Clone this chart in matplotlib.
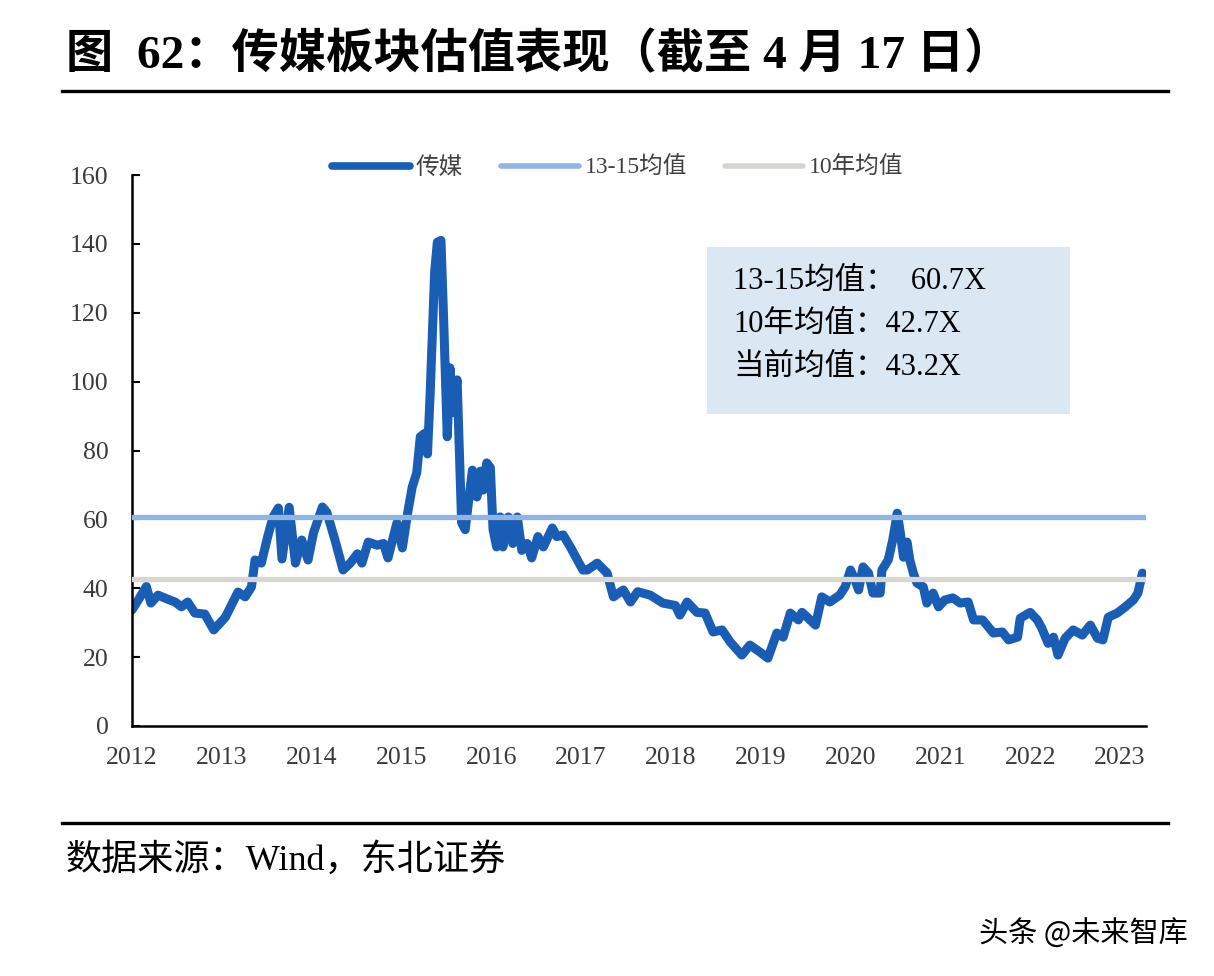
import matplotlib
matplotlib.use("Agg")
import matplotlib.pyplot as plt
from matplotlib.font_manager import FontProperties
from matplotlib.patches import Rectangle
from matplotlib.lines import Line2D

# ---------------- data ----------------
years = [2012.00, 2012.07, 2012.16, 2012.21, 2012.29, 2012.38, 2012.48, 2012.55, 2012.62, 2012.70,
         2012.81, 2012.91, 2013.04, 2013.18, 2013.26, 2013.33, 2013.37, 2013.44, 2013.51, 2013.57,
         2013.63, 2013.67, 2013.75, 2013.82, 2013.89, 2013.96, 2014.02, 2014.12, 2014.17, 2014.26,
         2014.35, 2014.43, 2014.51, 2014.56, 2014.63, 2014.73, 2014.80, 2014.85, 2014.95, 2015.01,
         2015.07, 2015.12, 2015.17, 2015.21, 2015.26, 2015.29, 2015.32, 2015.35, 2015.37, 2015.40,
         2015.44, 2015.47, 2015.51, 2015.54, 2015.57, 2015.62, 2015.65, 2015.67, 2015.71, 2015.74,
         2015.79, 2015.84, 2015.88, 2015.91, 2015.95, 2015.99, 2016.02, 2016.06, 2016.10, 2016.13,
         2016.19, 2016.24, 2016.29, 2016.34, 2016.40, 2016.45, 2016.52, 2016.58, 2016.68, 2016.73,
         2016.80, 2016.88, 2016.96, 2017.02, 2017.07, 2017.18, 2017.29, 2017.36, 2017.47, 2017.55,
         2017.63, 2017.77, 2017.91, 2018.05, 2018.10, 2018.18, 2018.29, 2018.38, 2018.47, 2018.57,
         2018.66, 2018.79, 2018.88, 2018.99, 2019.08, 2019.18, 2019.25, 2019.33, 2019.42, 2019.46,
         2019.53, 2019.61, 2019.68, 2019.77, 2019.88, 2019.94, 2020.00, 2020.05, 2020.09, 2020.14,
         2020.20, 2020.25, 2020.33, 2020.35, 2020.42, 2020.47, 2020.52, 2020.55, 2020.59, 2020.63,
         2020.66, 2020.70, 2020.74, 2020.81, 2020.85, 2020.92, 2020.98, 2021.05, 2021.14, 2021.22,
         2021.31, 2021.37, 2021.47, 2021.59, 2021.69, 2021.76, 2021.86, 2021.89, 2022.00, 2022.08,
         2022.13, 2022.20, 2022.26, 2022.31, 2022.39, 2022.48, 2022.58, 2022.67, 2022.75, 2022.81,
         2022.87, 2022.97, 2023.06, 2023.15, 2023.20, 2023.25, 2023.29]
media_pe = [33.7, 36.6, 40.5, 35.7, 38.0, 37.0, 36.0, 34.6, 36.0, 32.8,
            32.5, 27.9, 31.6, 38.9, 37.5, 40.4, 48.2, 47.3, 54.9, 60.7,
            63.3, 48.5, 63.5, 47.3, 54.0, 48.2, 56.0, 63.6, 62.0, 54.0,
            45.3, 47.3, 50.0, 47.3, 53.4, 52.5, 53.0, 48.8, 59.0, 51.7,
            62.0, 69.4, 73.5, 84.0, 85.0, 79.0, 96.7, 118.0, 132.0, 140.5,
            141.0, 118.0, 84.0, 104.0, 91.0, 100.5, 76.0, 59.0, 57.0, 63.6,
            74.3, 66.5, 74.0, 68.5, 76.4, 75.0, 57.0, 52.0, 60.7, 52.0,
            60.7, 53.0, 60.7, 51.0, 53.0, 48.8, 55.0, 52.0, 57.5, 55.0,
            55.5, 52.0, 48.2, 45.3, 45.3, 47.3, 44.4, 37.5, 39.5, 36.0,
            39.0, 38.0, 35.7, 35.0, 32.2, 36.0, 33.0, 32.8, 27.3, 27.9,
            24.4, 20.6, 23.5, 21.5, 19.7, 27.0, 25.8, 32.8, 30.8, 33.0,
            31.3, 29.3, 37.5, 36.0, 38.0, 40.4, 45.3, 42.4, 39.5, 46.2,
            44.4, 38.6, 38.6, 45.3, 48.2, 54.0, 61.8, 57.0, 49.0, 53.4,
            48.2, 44.4, 41.5, 40.4, 35.7, 38.6, 34.6, 36.6, 37.2, 35.7,
            36.0, 30.8, 30.8, 27.0, 27.3, 25.0, 25.8, 31.3, 33.0, 30.8,
            28.4, 24.0, 25.8, 20.6, 25.5, 27.9, 26.4, 29.3, 25.5, 25.0,
            31.6, 32.8, 34.6, 36.6, 38.6, 44.4, 43.2]
mean_1315 = 60.7
mean_10y = 42.7
current_pe = 43.2

series_labels = ["传媒", "13-15均值", "10年均值"]
year_ticks = list(range(2012, 2024))
y_ticks = list(range(0, 161, 20))
box_lines = ["13-15均值：  60.7X", "10年均值：42.7X", "当前均值：43.2X"]
title = "图  62：传媒板块估值表现（截至 4 月 17 日）"
source = "数据来源：Wind，东北证券"
watermark = "头条 @未来智库"

# ---------------- style ----------------
C_MEDIA = "#1a5db4"
C_1315 = "#8fb5e0"
C_10Y = "#d9d6d2"
SERIF = ["Liberation Serif", "Noto Sans CJK SC"]
CJK = ["Noto Sans CJK SC", "DejaVu Sans"]

fig = plt.figure(figsize=(12.14, 9.76), dpi=100)
fig.patch.set_facecolor("white")

ax = fig.add_axes([132 / 1214, 250 / 976, (1146 - 132) / 1214, (726 - 175) / 976])
ax.plot(years, media_pe, color=C_MEDIA, lw=6.5, solid_joinstyle="round",
        solid_capstyle="round", zorder=2)
ax.axhline(mean_1315, color=C_1315, lw=3.8, zorder=3)
ax.axhline(mean_10y, color=C_10Y, lw=3.8, zorder=3)

ax.set_xlim(years[0], years[-1])
ax.set_ylim(0, 160)
ax.set_yticks(y_ticks)
ax.set_xticks(year_ticks)
ax.set_xticklabels([str(y) for y in year_ticks])
for s in ["top", "right"]:
    ax.spines[s].set_visible(False)
for s in ["left", "bottom"]:
    ax.spines[s].set_color("black")
    ax.spines[s].set_linewidth(1.8)
ax.tick_params(axis="y", direction="in", length=6, width=1.5, color="black", pad=17)
ax.tick_params(axis="x", length=0, pad=15)
for lab in ax.get_xticklabels() + ax.get_yticklabels():
    lab.set_fontfamily(SERIF)
    lab.set_fontsize(18.5)
    lab.set_color("#3a3a3a")
ax.patch.set_alpha(0)

# legend
handles = [Line2D([], [], color=C_MEDIA, lw=5.5, solid_capstyle="round"),
           Line2D([], [], color=C_1315, lw=4, solid_capstyle="round"),
           Line2D([], [], color=C_10Y, lw=4, solid_capstyle="round")]
leg = ax.legend(handles, series_labels, loc="center", bbox_to_anchor=(0.479, 1.013),
                ncol=3, frameon=False, handlelength=3.3, handletextpad=0.25,
                columnspacing=1.6, prop=FontProperties(family=SERIF, size=17))
for t in leg.get_texts():
    t.set_color("#404040")

# text box
fig.patches.append(Rectangle((707 / 1214, 562 / 976), (1070 - 707) / 1214, (414 - 247) / 976,
                             transform=fig.transFigure, facecolor="#dce7f4",
                             edgecolor="none", zorder=1))
for i, line in enumerate(box_lines):
    fig.text(733 / 1214, (976 - 281 - 43 * i) / 976, line, ha="left", va="center",
             fontsize=22, family=SERIF, color="black", zorder=5)

# title and rules
fig.text(66 / 1214, (976 - 56) / 976, title, ha="left", va="center", fontsize=34,
         fontweight="bold", family=SERIF, color="black")
fig.add_artist(Line2D([62 / 1214, 1168 / 1214], [(976 - 91) / 976] * 2,
                      transform=fig.transFigure, color="black", lw=2.4))
fig.add_artist(Line2D([62 / 1214, 1168 / 1214], [(976 - 823) / 976] * 2,
                      transform=fig.transFigure, color="black", lw=2.4))
fig.text(66 / 1214, (976 - 860) / 976, source, ha="left", va="center", fontsize=26,
         family=SERIF, color="black")
fig.text(1188 / 1214, (976 - 935) / 976, watermark, ha="right", va="center", fontsize=21,
         family=CJK, color="black")

fig.savefig("out.png", dpi=100, facecolor="white")
